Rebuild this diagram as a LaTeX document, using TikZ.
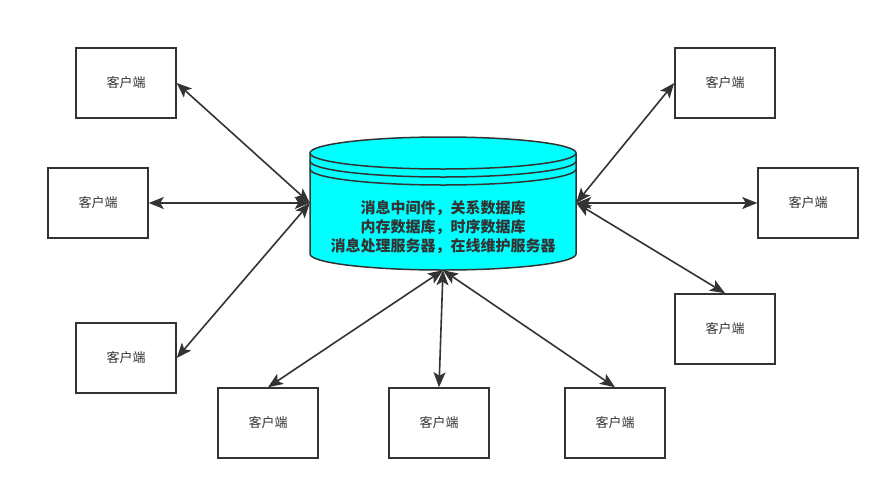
\documentclass[tikz,border=0pt]{standalone}
\usepackage{fontspec}
\usepackage{tikz}
\usetikzlibrary{arrows.meta, positioning}
\newfontfamily\cjk{Noto Sans CJK SC}
\definecolor{linegray}{HTML}{333333}
\definecolor{dbcyan}{HTML}{00FFFF}

\begin{document}
\begin{tikzpicture}[
    x=1pt, y=-1pt,
    client/.style={rectangle, draw=linegray, line width=1.5pt, minimum width=100pt, minimum height=70pt, align=center, font=\cjk\fontsize{13}{15}\selectfont, text=linegray},
    arrow/.style={{Stealth[length=15pt,width=12pt,inset=3.5pt]}-{Stealth[length=15pt,width=12pt,inset=3.5pt]}, line width=1.6pt, draw=linegray}
]
    \useasboundingbox (0,0) rectangle (890,490);

    % Database cylinder
    \fill[dbcyan] (310,153) -- (310,254) arc[start angle=180, end angle=360, x radius=133, y radius=-16] -- (576,153) -- cycle;
    \fill[dbcyan] (443,153) ellipse (133 and 16);
    \draw[linegray, line width=1.5pt] (310,153) -- (310,254) arc[start angle=180, end angle=360, x radius=133, y radius=-16] -- (576,153);
    \draw[linegray, line width=1.5pt] (443,153) ellipse (133 and 16);
    \draw[linegray, line width=1.5pt] (310,161) arc[start angle=180, end angle=360, x radius=133, y radius=-16];
    \draw[linegray, line width=1.5pt] (310,169) arc[start angle=180, end angle=360, x radius=133, y radius=-16];
    \node[minimum width=266pt, minimum height=134pt, inner sep=0pt] (db) at (443,203) {};
    \node[align=center, font=\cjk\bfseries\fontsize{15}{19}\selectfont, text=linegray] (dbtext) at (443,227) {消息中间件，关系数据库\\内存数据库，时序数据库\\消息处理服务器，在线维护服务器};

    % Clients left
    \node[client] (topleft) at (126,83) {客户端};
    \node[client] (left) at (98,203) {客户端};
    \node[client] (botleft) at (126,358) {客户端};

    % Clients bottom
    \node[client] (bottom1) at (268,423) {客户端};
    \node[client, right=69.5pt of bottom1] (bottom2) {客户端};
    \node[client, right=74.5pt of bottom2] (bottom3) {客户端};

    % Clients right
    \node[client] (topright) at (725,83) {客户端};
    \node[client] (right) at (808,203) {客户端};
    \node[client] (botright) at (725,329) {客户端};

    % Arrows
    \draw[arrow] (topleft.east) -- (db.west);
    \draw[arrow] (left.east) -- (db.west);
    \draw[arrow] (botleft.east) -- (db.west);
    \draw[arrow] (bottom1.north) -- (db.south);
    \draw[arrow] (bottom2.north) -- (db.south);
    \draw[arrow] (bottom3.north) -- (db.south);
    \draw[arrow] (topright.west) -- (db.east);
    \draw[arrow] (right.west) -- (db.east);
    \draw[arrow] (botright.north) -- (db.east);
\end{tikzpicture}
\end{document}
